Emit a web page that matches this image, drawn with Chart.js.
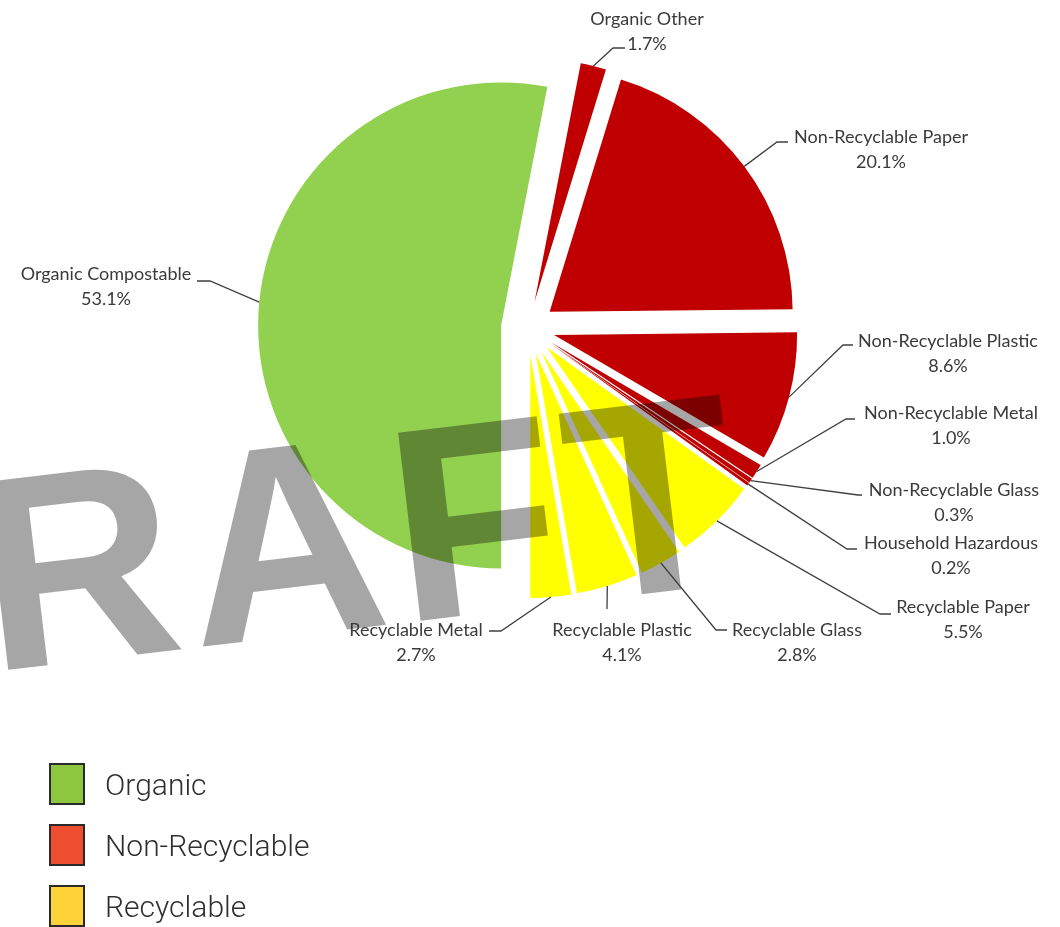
<!DOCTYPE html>
<html>
<head>
<meta charset="utf-8">
<title>Waste composition</title>
<script src="https://cdn.jsdelivr.net/npm/chart.js@4.4.1/dist/chart.umd.min.js"></script>
<style>
  html, body { margin: 0; padding: 0; background: #fff; }
  #wrap { position: relative; width: 1060px; height: 927px; overflow: hidden; }
  #legend { position: absolute; left: 49px; top: 763px; font-family: Roboto, "Liberation Sans", sans-serif; font-weight: 300; font-size: 30px; color: #2f2f2f; }
  .item { display: flex; align-items: center; height: 42px; margin-bottom: 19px; }
  .box { width: 36px; height: 42px; box-sizing: border-box; border: 2px solid #2a2a2a; margin-right: 20px; }
</style>
</head>
<body>
<div id="wrap">
  <canvas id="mychart" width="1060" height="927"></canvas>
  <div id="legend"></div>
</div>
<script>
// slices, clockwise from 6 o'clock
const categories = ['Organic Compostable', 'Organic Other', 'Non-Recyclable Paper', 'Non-Recyclable Plastic',
  'Non-Recyclable Metal', 'Non-Recyclable Glass', 'Household Hazardous', 'Recyclable Paper',
  'Recyclable Glass', 'Recyclable Plastic', 'Recyclable Metal'];
const shares = [53.1, 1.7, 20.1, 8.6, 1.0, 0.3, 0.2, 5.5, 2.8, 4.1, 2.7];

const legendGroups = ['Organic', 'Non-Recyclable', 'Recyclable'];

// styles
const sliceColors = ['#92d050', '#c00000', '#c00000', '#c00000', '#c00000', '#c00000', '#c00000',
  '#ffff00', '#ffff00', '#ffff00', '#ffff00'];
const legendColors = ['#8dc63f', '#f04e30', '#ffd43b'];
const EXPLODE = 27;

// label placement: text centre, leader elbow, leader end
const labelLayout = [
  { at: [106, 274], elbow: [210, 281], tail: [197, 281] },
  { at: [647, 19], elbow: [613, 48], tail: [625, 48] },
  { at: [881, 137], elbow: [777, 142], tail: [788, 142] },
  { at: [948, 341], elbow: [843, 345], tail: [853, 345] },
  { at: [951, 413], elbow: [846, 419], tail: [855, 419] },
  { at: [954, 490], elbow: [858, 495], tail: [862, 495] },
  { at: [951, 543], elbow: [847, 549], tail: [857, 549] },
  { at: [963, 607], elbow: [880, 614], tail: [891, 614] },
  { at: [797, 630], elbow: [716, 630], tail: [727, 630] },
  { at: [622, 630], elbow: [607, 609], tail: [607, 609] },
  { at: [416, 630], elbow: [501, 631], tail: [489, 631] }
];

// pie slices pulled straight out along their middle angle (excel style explosion)
class ExplodedArc extends Chart.ArcElement {
  draw(ctx) {
    const mid = (this.startAngle + this.endAngle) / 2;
    ctx.save();
    ctx.translate(Math.cos(mid) * EXPLODE, Math.sin(mid) * EXPLODE);
    super.draw(ctx);
    ctx.restore();
  }
}
ExplodedArc.id = 'explodedArc';

class ExplodedPie extends Chart.PieController {}
ExplodedPie.id = 'explodedPie';
ExplodedPie.defaults = { dataElementType: 'explodedArc' };

Chart.register(ExplodedArc, ExplodedPie);

const watermark = {
  id: 'watermark',
  afterDatasetsDraw(chart) {
    const ctx = chart.ctx;
    const gap = 9;
    ctx.save();
    ctx.font = 'bold 275px "Liberation Sans", Arial, sans-serif';
    ctx.fillStyle = 'rgba(0, 0, 0, 0.35)';
    ctx.textBaseline = 'alphabetic';
    ctx.translate(-10, 672);
    ctx.rotate(-6.8 * Math.PI / 180);
    // "D" sits off the left edge, "R" starts at the origin
    let x = -ctx.measureText('D').width - gap;
    for (const ch of 'DRAFT') {
      ctx.fillText(ch, x, 0);
      x += ctx.measureText(ch).width + gap;
    }
    ctx.restore();
  }
};

const sliceLabels = {
  id: 'sliceLabels',
  afterDraw(chart) {
    const ctx = chart.ctx;
    const arcs = chart.getDatasetMeta(0).data;
    ctx.save();
    ctx.strokeStyle = '#404040';
    ctx.lineWidth = 1.3;
    ctx.fillStyle = '#3a3a3a';
    ctx.font = '18px Lato, "Open Sans", sans-serif';
    ctx.textAlign = 'center';
    ctx.textBaseline = 'middle';
    arcs.forEach((arc, i) => {
      const mid = (arc.startAngle + arc.endAngle) / 2;
      const r = arc.outerRadius + EXPLODE;
      const sx = arc.x + Math.cos(mid) * r;
      const sy = arc.y + Math.sin(mid) * r;
      const lay = labelLayout[i];
      ctx.beginPath();
      ctx.moveTo(sx, sy);
      ctx.lineTo(lay.elbow[0], lay.elbow[1]);
      ctx.lineTo(lay.tail[0], lay.tail[1]);
      ctx.stroke();
      ctx.fillText(categories[i], lay.at[0], lay.at[1]);
      ctx.fillText(shares[i].toFixed(1) + '%', lay.at[0], lay.at[1] + 25);
    });
    ctx.restore();
  }
};

new Chart(document.getElementById('mychart'), {
  type: 'explodedPie',
  data: {
    labels: categories,
    datasets: [{
      data: shares,
      backgroundColor: sliceColors,
      borderWidth: 0,
      hoverOffset: 0
    }]
  },
  options: {
    responsive: false,
    animation: false,
    events: [],
    rotation: 180,
    radius: 243,
    layout: { padding: { left: 0, right: 4, top: 0, bottom: 271 } },
    plugins: {
      legend: { display: false },
      tooltip: { enabled: false }
    }
  },
  plugins: [watermark, sliceLabels]
});

// legend for the three waste groups
const legendEl = document.getElementById('legend');
legendGroups.forEach((name, i) => {
  const row = document.createElement('div');
  row.className = 'item';
  const box = document.createElement('span');
  box.className = 'box';
  box.style.background = legendColors[i];
  const txt = document.createElement('span');
  txt.textContent = name;
  row.appendChild(box);
  row.appendChild(txt);
  legendEl.appendChild(row);
});
</script>
</body>
</html>
